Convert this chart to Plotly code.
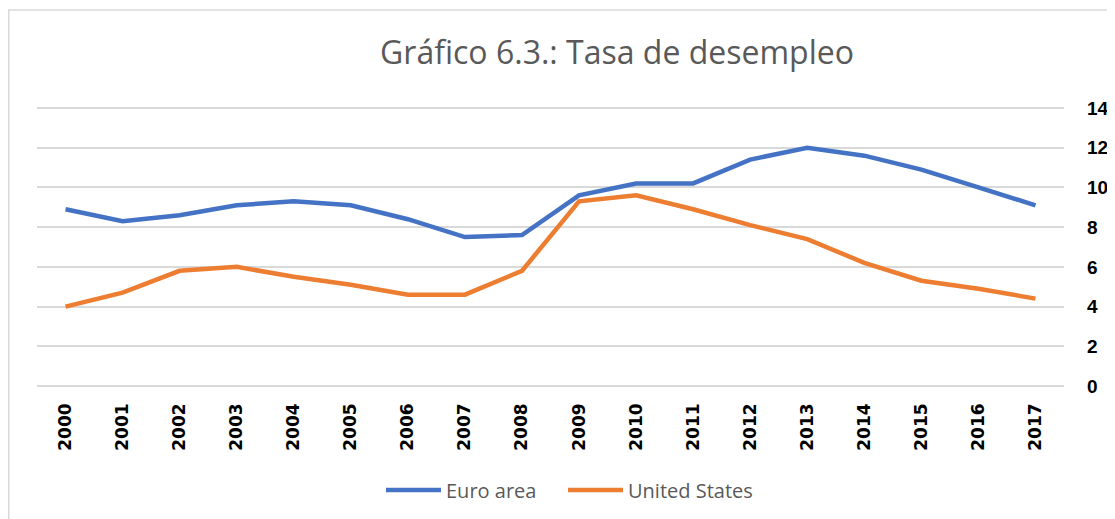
import plotly.graph_objects as go

# data
years = ["2000", "2001", "2002", "2003", "2004", "2005", "2006", "2007", "2008",
         "2009", "2010", "2011", "2012", "2013", "2014", "2015", "2016", "2017"]
euro_area = [8.9, 8.3, 8.6, 9.1, 9.3, 9.1, 8.4, 7.5, 7.6,
             9.6, 10.2, 10.2, 11.4, 12.0, 11.6, 10.9, 10.0, 9.1]
united_states = [4.0, 4.7, 5.8, 6.0, 5.5, 5.1, 4.6, 4.6, 5.8,
                 9.3, 9.6, 8.9, 8.1, 7.4, 6.2, 5.3, 4.9, 4.4]
y_ticks = [0, 2, 4, 6, 8, 10, 12, 14]

BLUE, ORANGE, GREY = "#4472C4", "#ED7D31", "#595959"

# the page body has an 8px margin, so work in figure pixels = page pixels - 8
W, H = 1107, 511
L, R, T, B = 29, 51, 98, 131
pw, ph = W - L - R, H - T - B

def px(x):
    return (x - L) / pw

def py(y):
    return (H - B - y) / ph

fig = go.Figure()
fig.add_trace(go.Scatter(x=years, y=euro_area, mode="lines", name="Euro area",
                         line=dict(color=BLUE, width=4.5)))
fig.add_trace(go.Scatter(x=years, y=united_states, mode="lines", name="United States",
                         line=dict(color=ORANGE, width=4.5)))

# chart border (right and bottom edges fall outside the crop)
fig.add_shape(type="rect", xref="paper", yref="paper",
              x0=px(0.75), x1=1.3, y0=-1.0, y1=py(2),
              line=dict(color="#d9d9d9", width=1.5), fillcolor="rgba(0,0,0,0)")

# legend drawn by hand to get Excel-like long line samples
legend_items = [("Euro area", BLUE, 378), ("United States", ORANGE, 560)]
for label, color, x0 in legend_items:
    fig.add_shape(type="line", xref="paper", yref="paper",
                  x0=px(x0), x1=px(x0 + 55), y0=py(482), y1=py(482),
                  line=dict(color=color, width=4.5))
    fig.add_annotation(text=label, xref="paper", yref="paper",
                       x=px(x0 + 58), y=py(482), xanchor="left", yanchor="middle",
                       showarrow=False,
                       font=dict(family="Open Sans", size=20, color=GREY))

fig.update_layout(
    width=W, height=H,
    margin=dict(l=L, r=R, t=T, b=B, autoexpand=False),
    paper_bgcolor="white", plot_bgcolor="white",
    title=dict(text="Gráfico 6.3.: Tasa de desempleo", xref="container", yref="container",
               x=609 / W, y=1 - 45 / H, xanchor="center", yanchor="middle",
               font=dict(family="Open Sans", size=32, color=GREY)),
    xaxis=dict(type="category", range=[-0.5, len(years) - 0.5], tickangle=-90,
               showgrid=False, showline=False, zeroline=False, ticks="",
               ticklabelstandoff=11, automargin=False,
               tickfont=dict(family="DejaVu Sans", size=17, color="black", weight="bold")),
    yaxis=dict(side="right", range=[-0.1, 14.1], tickvals=y_ticks, showgrid=True,
               gridcolor="#d9d9d9", gridwidth=1.5, zeroline=False, showline=False,
               ticks="", ticklabelstandoff=22, automargin=False,
               tickfont=dict(family="Liberation Sans", size=19, color="black", weight="bold")),
    showlegend=False,
)

fig.write_html("out.html")
